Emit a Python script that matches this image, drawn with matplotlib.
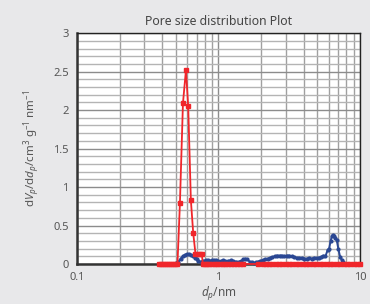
import matplotlib
matplotlib.use("Agg")
import matplotlib.pyplot as plt
from matplotlib.ticker import LogLocator, MultipleLocator, NullFormatter, FixedLocator, FixedFormatter

plt.rcParams['font.family'] = ['Noto Sans', 'DejaVu Sans']
plt.rcParams['mathtext.fontset'] = 'custom'
plt.rcParams['mathtext.rm'] = 'Noto Sans'
plt.rcParams['mathtext.it'] = 'Noto Sans:italic'

title = "Pore size distribution Plot"
x_ticks = [0.1, 1, 10]
x_tick_labels = ["0.1", "1", "10"]
y_ticks = [0, 0.5, 1, 1.5, 2, 2.5, 3]
y_tick_labels = ["0", "0.5", "1", "1.5", "2", "2.5", "3"]

red_d = [0.377, 0.39, 0.405, 0.42, 0.435, 0.45, 0.465, 0.48, 0.495, 0.513,
         0.534, 0.561, 0.589, 0.611, 0.638, 0.663, 0.688, 0.72, 0.74, 0.763, 0.775,
         0.8, 0.83, 0.86, 0.9, 0.94, 0.98, 1.02, 1.07, 1.12, 1.17, 1.23, 1.29, 1.35,
         1.42, 1.5, 1.9, 2.05, 2.16, 2.28, 2.4, 2.53, 2.67, 2.82, 2.98, 3.15, 3.33,
         3.52, 3.72, 3.93, 4.15, 4.39, 4.64, 4.9, 5.18, 5.48, 5.8, 6.13, 6.48, 6.85,
         7.24, 7.65, 8.09, 8.55, 9.04, 9.56, 10.0]
red_v = [0, 0, 0, 0, 0, 0, 0, 0, 0, 0,
         0.79, 2.09, 2.52, 2.05, 0.83, 0.40, 0.13, 0.13, 0.13, 0.13, 0.0,
         0, 0, 0, 0, 0, 0, 0, 0, 0, 0, 0, 0, 0,
         0, 0, 0, 0, 0, 0, 0, 0, 0, 0, 0, 0, 0,
         0, 0, 0, 0, 0, 0, 0, 0, 0, 0, 0, 0, 0,
         0, 0, 0, 0, 0, 0, 0]

blue_d = [0.48, 0.50, 0.52, 0.54, 0.56, 0.58, 0.60, 0.62, 0.64, 0.66, 0.68, 0.70,
          0.72, 0.75, 0.78, 0.81, 0.84, 0.87, 0.9, 0.93, 0.96, 1.0, 1.04, 1.08,
          1.12, 1.17, 1.22, 1.27, 1.33, 1.39, 1.45, 1.5, 1.55, 1.6, 1.66, 1.72,
          1.78, 1.84, 1.9, 1.97, 2.05, 2.13, 2.22, 2.31, 2.4, 2.5, 2.6, 2.7, 2.8,
          2.92, 3.04, 3.17, 3.3, 3.44, 3.58, 3.73, 3.88, 4.04, 4.2, 4.37, 4.55,
          4.74, 4.94, 5.1, 5.3, 5.5, 5.7, 5.9, 6.05, 6.2, 6.32, 6.45, 6.56, 6.7,
          6.85, 7.04, 7.24, 7.45, 7.64]
blue_v = [0.0, 0.01, 0.03, 0.07, 0.10, 0.12, 0.13, 0.13, 0.12, 0.11, 0.08, 0.06,
          0.04, 0.03, 0.04, 0.05, 0.05, 0.04, 0.05, 0.05, 0.05, 0.04, 0.04, 0.05,
          0.04, 0.04, 0.05, 0.04, 0.03, 0.03, 0.04, 0.06, 0.07, 0.06, 0.03, 0.02,
          0.01, 0.02, 0.03, 0.04, 0.05, 0.06, 0.07, 0.08, 0.09, 0.10, 0.11, 0.11, 0.11,
          0.10, 0.11, 0.11, 0.10, 0.09, 0.08, 0.08, 0.08, 0.07, 0.07, 0.08, 0.07,
          0.08, 0.08, 0.08, 0.09, 0.11, 0.10, 0.18, 0.20, 0.30, 0.36, 0.38, 0.37, 0.34,
          0.31, 0.19, 0.09, 0.05, 0.02]

fig = plt.figure(figsize=(3.7, 3.04), dpi=100)
fig.patch.set_facecolor('#e8e8ea')
ax = fig.add_axes([0.208, 0.1316, 0.765, 0.7594])
ax.set_facecolor('white')

ax.plot(blue_d, blue_v, color='#2a4793', lw=1.4, marker='o', ms=2.0,
        mec='#2a4793', mfc='#2a4793', zorder=3, clip_on=False)
ax.plot(red_d, red_v, color='#f0262b', lw=1.3, marker='s', ms=2.9,
        mec='#f0262b', mfc='#f0262b', zorder=4, clip_on=False)

ax.set_xscale('log')
ax.set_xlim(0.1, 10)
ax.set_ylim(0, 3)
ax.xaxis.set_major_locator(FixedLocator(x_ticks))
ax.xaxis.set_major_formatter(FixedFormatter(x_tick_labels))
ax.xaxis.set_minor_locator(LogLocator(base=10, subs=[2, 3, 4, 5, 6, 7, 8, 9]))
ax.xaxis.set_minor_formatter(NullFormatter())
ax.yaxis.set_major_locator(FixedLocator(y_ticks))
ax.yaxis.set_major_formatter(FixedFormatter(y_tick_labels))
ax.yaxis.set_minor_locator(MultipleLocator(0.1))

ax.grid(which='major', axis='both', color='#8c8c8c', lw=1.0)
ax.grid(which='minor', axis='y', color='#b4b4b4', lw=1.0)
ax.grid(which='minor', axis='x', color='#a0a0a0', lw=1.0)
ax.set_axisbelow(True)

ax.tick_params(which='both', length=0, labelsize=8, labelcolor='#555555', pad=6)
for s in ['left', 'bottom']:
    ax.spines[s].set_linewidth(1.8)
    ax.spines[s].set_color('#333333')
for s in ['top', 'right']:
    ax.spines[s].set_linewidth(1.0)
    ax.spines[s].set_color('#222222')

ax.set_title(title, fontsize=8.8, color='#444444', pad=6)
ax.set_xlabel(r"$d_p$/nm", fontsize=8.5, color='#555555', labelpad=1)
ax.set_ylabel(r"d$V_p$/d$d_p$/cm$^3$ g$^{-1}$ nm$^{-1}$", fontsize=8.3, color='#555555', labelpad=8)

fig.savefig('out.png', dpi=100, facecolor=fig.get_facecolor())
